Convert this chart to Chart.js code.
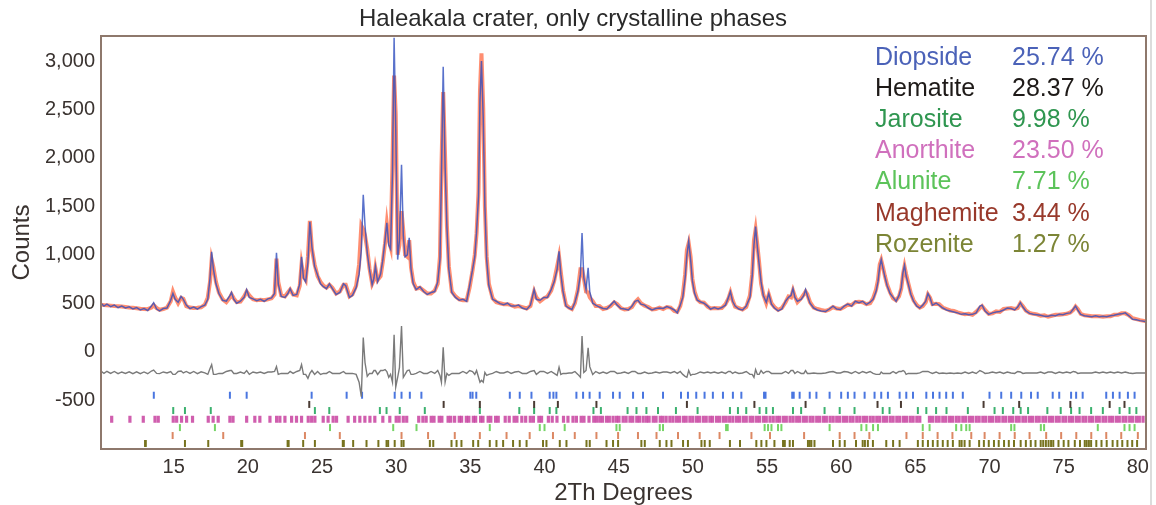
<!DOCTYPE html>
<html>
<head>
<meta charset="utf-8">
<title>Haleakala crater XRD</title>
<script src="https://cdn.jsdelivr.net/npm/chart.js@4.4.1/dist/chart.umd.min.js"></script>
<style>
  html, body { margin: 0; padding: 0; background: #fff; }
  canvas { display: block; }
</style>
</head>
<body>
<canvas id="xrdChart" width="1156" height="505"></canvas>
<script>
// Rietveld fit, 2-theta (degrees) against counts
const twoTheta = [
  10.1, 10.3, 10.5, 10.75, 11.0, 11.25, 11.5, 11.75, 12.0, 12.25,
  12.5, 12.75, 13.0, 13.25, 13.5, 13.65, 13.85, 14.05, 14.3, 14.55,
  14.8, 14.95, 15.1, 15.3, 15.5, 15.65, 15.85, 16.1, 16.35, 16.6,
  16.85, 17.1, 17.3, 17.45, 17.56, 17.68, 17.85, 18.05, 18.3, 18.55,
  18.8, 18.9, 19.05, 19.25, 19.5, 19.75, 19.92, 20.1, 20.35, 20.6,
  20.85, 21.1, 21.35, 21.6, 21.8, 21.93, 22.05, 22.25, 22.5, 22.7,
  22.85, 23.05, 23.3, 23.5, 23.62, 23.75, 23.9, 24.05, 24.18, 24.32,
  24.5, 24.7, 24.9, 25.1, 25.3, 25.5, 25.7, 25.95, 26.2, 26.45,
  26.6, 26.85, 27.05, 27.3, 27.5, 27.65, 27.78, 27.9, 28.05, 28.2,
  28.38, 28.5, 28.6, 28.75, 28.95, 29.1, 29.25, 29.37, 29.5, 29.62,
  29.75, 29.86, 29.97, 30.1, 30.22, 30.36, 30.48, 30.6, 30.75, 30.88,
  31.0, 31.15, 31.35, 31.6, 31.85, 32.1, 32.35, 32.6, 32.8, 32.95,
  33.05, 33.17, 33.3, 33.42, 33.55, 33.75, 34.0, 34.25, 34.5, 34.75,
  34.95, 35.15, 35.3, 35.42, 35.55, 35.65, 35.75, 35.87, 35.98, 36.1,
  36.25, 36.5, 36.75, 37.0, 37.25, 37.5, 37.75, 38.0, 38.25, 38.5,
  38.8, 39.05, 39.3, 39.45, 39.7, 39.95, 40.2, 40.45, 40.65, 40.85,
  40.98, 41.1, 41.25, 41.45, 41.65, 41.85, 42.05, 42.25, 42.42, 42.53,
  42.65, 42.8, 42.94, 43.05, 43.25, 43.45, 43.7, 43.95, 44.2, 44.45,
  44.7, 44.9, 45.15, 45.4, 45.65, 45.9, 46.1, 46.3, 46.5, 46.75,
  47.0, 47.25, 47.5, 47.75, 48.0, 48.25, 48.5, 48.75, 48.95, 49.15,
  49.32, 49.48, 49.6, 49.72, 49.85, 49.97, 50.12, 50.3, 50.5, 50.75,
  51.0, 51.2, 51.45, 51.7, 51.95, 52.2, 52.4, 52.53, 52.68, 52.85,
  53.1, 53.35, 53.6, 53.85, 54.0, 54.12, 54.23, 54.35, 54.47, 54.6,
  54.75, 54.95, 55.12, 55.3, 55.5, 55.75, 56.0, 56.25, 56.45, 56.62,
  56.75, 56.88, 57.05, 57.3, 57.48, 57.6, 57.72, 57.9, 58.15, 58.4,
  58.65, 58.95, 59.2, 59.45, 59.7, 59.95, 60.2, 60.45, 60.7, 60.95,
  61.2, 61.45, 61.7, 61.95, 62.15, 62.35, 62.48, 62.6, 62.7, 62.82,
  62.95, 63.1, 63.3, 63.5, 63.7, 63.9, 64.05, 64.17, 64.27, 64.38,
  64.52, 64.7, 64.88, 65.1, 65.3, 65.5, 65.7, 65.85, 65.98, 66.15,
  66.4, 66.6, 66.85, 67.1, 67.35, 67.6, 67.85, 68.1, 68.35, 68.6,
  68.85, 69.1, 69.35, 69.5, 69.7, 69.95, 70.2, 70.45, 70.7, 70.95,
  71.2, 71.45, 71.7, 71.9, 72.08, 72.25, 72.45, 72.7, 72.95, 73.2,
  73.45, 73.7, 73.95, 74.2, 74.45, 74.7, 74.95, 75.2, 75.45, 75.65,
  75.8, 75.95, 76.15, 76.4, 76.65, 76.9, 77.15, 77.4, 77.65, 77.9,
  78.15, 78.4, 78.65, 78.9, 79.15, 79.4, 79.65, 79.9, 80.15, 80.5
];
const observed = [
  500, 470, 490, 465, 480, 455, 470, 450, 462, 440,
  455, 430, 445, 425, 470, 505, 440, 420, 445, 450,
  530, 600, 540, 510, 570, 540, 480, 445, 460, 440,
  465, 480, 540, 760, 1030, 850, 700, 600, 530, 520,
  580, 610, 540, 500, 520, 560, 640, 560, 545, 525,
  540, 520, 545, 555, 600, 1020, 700, 570, 560, 600,
  650, 580, 590, 700, 980, 760, 720, 920, 1340, 1080,
  880, 790, 700, 670, 650, 700, 650, 590, 610, 700,
  680, 560, 580, 660, 800, 1050, 1620, 1300, 1020, 850,
  690, 760, 880, 720, 800, 950, 1150, 1330, 1100, 1060,
  1850, 3240, 2300, 950, 1150, 1930, 1200, 980, 1000, 1175,
  850, 700, 640, 670, 620, 590, 610, 620, 720, 950,
  1800, 2940, 1900, 1290, 850, 610, 560, 530, 540, 520,
  680, 850, 980, 1240, 1600, 2600, 3000, 2400, 1500, 950,
  680, 540, 520, 495, 485, 500, 470, 470, 480, 450,
  435, 480, 640, 540, 530, 560, 560, 640, 720, 850,
  1035, 800, 620, 470, 450, 435, 510, 620, 800, 1225,
  760, 640, 865, 620, 500, 480, 460, 445, 440, 480,
  520, 480, 445, 440, 430, 470, 520, 530, 490, 480,
  450, 430, 445, 450, 445, 465, 450, 430, 400, 480,
  560, 760, 1000, 1140, 950, 730, 600, 530, 515, 500,
  470, 440, 455, 440, 455, 480, 560, 620, 520, 470,
  440, 430, 470, 560, 780, 1100, 1290, 1080, 900, 720,
  580, 510, 600, 490, 450, 420, 440, 520, 560, 580,
  650, 560, 520, 540, 580, 640, 580, 500, 450, 430,
  420, 415, 440, 470, 440, 435, 470, 490, 470, 520,
  505, 520, 485, 510, 540, 620, 720, 880, 950, 860,
  770, 680, 600, 560, 520, 580, 660, 820, 890, 780,
  700, 590, 520, 470, 450, 480, 520, 600, 560, 480,
  500, 480, 450, 430, 420, 410, 400, 385, 390, 380,
  385, 400, 470, 480, 420, 385, 400, 410, 415, 430,
  450, 445, 430, 460, 505, 460, 420, 395, 385, 380,
  375, 365, 365, 375, 370, 385, 380, 395, 400, 440,
  470, 430, 385, 370, 365, 360, 370, 360, 365, 360,
  370, 375, 385, 390, 400, 370, 335, 330, 320, 310
];
const calculated = [
  485, 480, 478, 475, 470, 468, 465, 460, 455, 452,
  448, 442, 440, 438, 455, 480, 450, 432, 440, 455,
  520, 620, 560, 500, 555, 545, 470, 455, 450, 452,
  458, 485, 560, 720, 950, 870, 720, 610, 540, 510,
  560, 590, 550, 510, 515, 570, 620, 580, 540, 530,
  535, 530, 540, 550, 590, 960, 720, 580, 570, 610,
  640, 590, 580, 680, 900, 780, 740, 980, 1350, 1060,
  900, 780, 720, 680, 660, 690, 660, 600, 620, 690,
  690, 570, 590, 680, 900, 1300, 1260, 1200, 1060, 860,
  700, 740, 860, 740, 780, 930, 1120, 1320, 1150, 1080,
  1950, 2850, 2450, 1000, 1100, 1450, 1250, 1000, 980, 1150,
  870, 720, 650, 660, 630, 600, 600, 630, 700, 980,
  1900, 2680, 2000, 1300, 880, 620, 570, 540, 530, 530,
  660, 840, 1000, 1220, 1650, 2700, 3080, 2500, 1500, 980,
  700, 550, 510, 500, 490, 490, 480, 465, 470, 460,
  445, 470, 620, 560, 520, 550, 570, 630, 730, 880,
  980, 820, 630, 480, 455, 440, 500, 640, 850, 850,
  760, 620, 610, 560, 520, 470, 470, 440, 450, 470,
  510, 490, 450, 435, 440, 460, 510, 540, 500, 475,
  460, 435, 440, 455, 440, 460, 455, 420, 410, 470,
  580, 800, 1050, 1120, 980, 750, 620, 540, 510, 505,
  465, 445, 450, 448, 450, 490, 550, 610, 530, 465,
  450, 435, 460, 580, 800, 1150, 1260, 1100, 920, 700,
  590, 500, 590, 500, 460, 430, 450, 510, 570, 560,
  630, 570, 510, 550, 590, 620, 590, 510, 455, 440,
  430, 420, 435, 460, 445, 440, 460, 485, 480, 510,
  515, 510, 490, 500, 550, 640, 740, 900, 945, 870,
  780, 690, 610, 550, 530, 570, 650, 800, 880, 800,
  710, 600, 530, 480, 455, 470, 510, 590, 560, 490,
  495, 490, 455, 440, 425, 420, 405, 395, 385, 390,
  380, 410, 450, 470, 430, 390, 395, 415, 410, 440,
  445, 450, 440, 450, 500, 470, 425, 400, 390, 385,
  370, 375, 360, 370, 380, 380, 385, 390, 405, 430,
  465, 440, 390, 375, 370, 365, 365, 365, 360, 365,
  365, 380, 380, 395, 395, 375, 345, 335, 325, 315
];

// Axis ticks
const xTicks = [15, 20, 25, 30, 35, 40, 45, 50, 55, 60, 65, 70, 75, 80];
const yTicks = [-500, 0, 500, 1000, 1500, 2000, 2500, 3000];

// Quantified phases (wt %)
const phaseNames = ['Diopside', 'Hematite', 'Jarosite', 'Anorthite', 'Alunite', 'Maghemite', 'Rozenite'];
const phasePercents = [25.74, 28.37, 9.98, 23.50, 7.71, 3.44, 1.27];

// Reflection positions (2-theta) for each phase
const diopsidePeaks = [13.66, 18.79, 19.92, 24.3, 26.66, 27.7, 29.9, 30.36, 30.92, 31.7,
  35.0, 35.15, 35.4, 37.66, 38.33, 39.12, 40.35, 40.6, 40.8, 42.15, 42.6, 43.04, 43.72,
  44.62, 45.07, 45.97, 46.64, 47.99, 49.2, 49.67, 50.23, 50.79, 51.35, 52.03, 52.7, 53.27,
  54.8, 54.9, 56.7, 56.8, 57.2, 57.88, 58.33, 59.22, 60.0, 60.45, 60.9, 61.58, 62.25, 62.7,
  63.15, 63.94, 64.39, 64.84, 65.74, 66.19, 66.63, 67.08, 67.53, 68.2, 70.0, 70.79, 71.46,
  72.14, 72.8, 73.25, 74.26, 74.7, 75.5, 75.84, 76.28, 77.87, 78.32, 78.77, 79.33, 79.78];
const hematitePeaks = [24.14, 33.2, 35.64, 39.3, 40.9, 43.5, 49.6, 54.15, 57.6, 62.45,
  64.03, 69.6, 72.0, 75.45, 78.1, 79.1];
const jarositePeaks = [14.97, 15.76, 17.5, 24.52, 25.49, 28.9, 29.35, 30.24, 31.93, 35.64,
  38.3, 39.3, 40.35, 40.8, 43.3, 43.8, 45.6, 46.2, 46.87, 47.65, 48.86, 50.32, 52.5, 53.04,
  53.6, 54.5, 54.95, 55.4, 56.75, 57.3, 58.88, 59.9, 60.9, 62.8, 63.26, 65.17, 65.74, 66.4,
  67.1, 68.54, 70.34, 70.9, 71.6, 72.1, 72.6, 73.9, 74.8, 75.5, 76.07, 76.85, 77.64, 78.77,
  79.44, 79.9];
const anorthitePeaks = [10.82, 12.05, 12.95, 13.74, 13.96, 14.97, 15.2, 15.53, 15.87, 16.27,
  17.33, 17.66, 18.0, 18.79, 19.0, 19.92, 20.47, 20.81, 21.49, 21.94, 22.16, 22.5, 22.95,
  23.28, 23.62, 24.07, 24.3, 24.52, 25.08, 25.41, 25.75, 25.98, 26.76, 27.2, 27.55, 27.89,
  28.23, 28.56, 29.1, 29.57, 30.0, 30.2, 30.48, 30.71, 31.52, 31.8, 32.02, 32.36, 32.55,
  32.9, 33.08, 33.5, 33.68, 33.94, 34.25, 34.41, 34.73, 34.9, 35.2, 35.36, 35.69, 35.85,
  36.2, 36.38, 36.7, 36.88, 37.35, 37.62, 37.95, 38.14, 38.47, 38.73, 39.04, 39.25, 39.62,
  39.8, 40.26, 40.52, 40.84, 41.28, 41.58, 41.92, 42.15, 42.47, 42.66, 43.0, 43.32, 43.5,
  43.72, 43.91, 44.18, 44.37, 44.62, 44.85, 45.02, 45.3, 45.5, 45.76, 45.95, 46.22, 46.4,
  46.65, 46.87, 47.05, 47.33, 47.52, 47.8, 47.98, 48.2, 48.45, 48.66, 48.9, 49.1, 49.36,
  49.55, 49.8, 50.0, 50.25, 50.44, 50.7, 50.9, 51.15, 51.33, 51.6, 51.8, 52.05, 52.25,
  52.48, 52.7, 52.95, 53.15, 53.4, 53.6, 53.86, 54.05, 54.3, 54.5, 54.76, 54.95, 55.2,
  55.42, 55.66, 55.85, 56.1, 56.3, 56.55, 56.76, 57.0, 57.2, 57.45, 57.65, 57.9, 58.1,
  58.35, 58.55, 58.8, 59.0, 59.25, 59.46, 59.7, 59.9, 60.15, 60.36, 60.6, 60.8, 61.05,
  61.26, 61.5, 61.7, 61.95, 62.16, 62.4, 62.6, 62.85, 63.05, 63.3, 63.5, 63.75, 63.95,
  64.2, 64.4, 64.65, 64.85, 65.1, 65.3, 65.95, 66.15, 66.4, 66.6, 66.85, 67.05, 67.3,
  67.5, 67.75, 67.95, 68.2, 68.4, 68.65, 68.85, 69.1, 69.3, 69.55, 69.75, 70.0, 70.2,
  70.45, 70.65, 70.9, 71.1, 71.35, 71.55, 71.8, 72.0, 72.25, 72.45, 72.7, 72.9, 73.15,
  73.35, 73.6, 73.8, 74.05, 74.25, 74.5, 74.7, 74.95, 75.15, 75.4, 75.6, 75.85, 76.05,
  76.3, 76.5, 76.75, 76.95, 77.2, 77.4, 77.65, 77.85, 78.1, 78.3, 78.55, 78.75, 79.0,
  79.2, 79.45, 79.65, 79.9, 80.1, 80.35];
const alunitePeaks = [15.42, 17.78, 25.54, 29.8, 31.37, 36.31, 39.68, 40.0, 41.36, 44.85,
  45.07, 47.77, 47.99, 52.24, 52.35, 54.84, 55.07, 55.3, 55.74, 55.97, 59.22, 61.36, 61.7,
  62.15, 62.48, 65.5, 65.96, 67.75, 68.1, 68.43, 68.66, 71.46, 71.68, 73.46, 73.68, 77.3,
  79.1, 79.44, 79.78];
const maghemitePeaks = [14.93, 18.34, 23.85, 26.2, 30.36, 32.15, 33.95, 35.64, 37.44, 39.0,
  40.57, 42.04, 43.5, 44.96, 46.3, 47.55, 49.0, 50.46, 51.8, 53.95, 55.2, 57.5, 59.9, 60.9,
  61.9, 64.4, 65.5, 66.5, 67.5, 68.77, 69.67, 70.68, 71.7, 72.7, 73.82, 74.83, 75.85, 76.86,
  77.87, 78.88, 80.0];
const rozenitePeaks = [13.07, 13.12, 15.76, 17.33, 19.55, 19.62, 22.68, 22.75, 23.73, 24.52,
  26.4, 26.47, 27.1, 28.0, 28.8, 29.35, 29.46, 29.9, 30.36, 30.5, 32.27, 32.5, 33.73, 34.07,
  34.4, 35.19, 35.53, 36.31, 36.76, 37.21, 37.88, 38.33, 38.79, 39.9, 40.13, 41.03, 41.48,
  42.83, 43.05, 44.18, 44.62, 44.96, 46.53, 46.76, 47.77, 48.22, 48.56, 49.34, 49.67, 50.58,
  50.8, 51.14, 52.5, 53.18, 54.28, 54.62, 54.96, 55.5, 56.08, 56.2, 56.53, 56.75, 57.76,
  57.88, 57.99, 58.2, 59.45, 59.9, 60.24, 61.0, 61.45, 61.6, 61.8, 62.14, 63.04, 63.5, 63.94,
  65.17, 65.5, 65.85, 66.18, 66.5, 66.85, 67.18, 67.53, 67.98, 68.12, 68.32, 68.66, 69.3,
  69.62, 69.95, 70.3, 70.62, 70.98, 71.3, 71.65, 72.1, 72.45, 72.78, 73.1, 73.45, 73.62,
  73.8, 73.98, 74.15, 74.3, 74.65, 75.0, 75.32, 75.75, 76.1, 76.42, 76.55, 76.7, 76.85,
  77.2, 77.55, 77.9, 78.3, 78.62, 78.95, 79.3, 79.62, 79.95];

const phasePeaks = [diopsidePeaks, hematitePeaks, jarositePeaks, anorthitePeaks,
  alunitePeaks, maghemitePeaks, rozenitePeaks];

// text colours of the phase list and colours of the reflection markers
const phaseTextColors = ['#4b62b8', '#1e1a18', '#2f9650', '#d070bd', '#5cc35a', '#98392b', '#7c8536'];
const phaseTickColors = ['#4a76e0', '#4a3b33', '#3bb16e', 'rgba(200,66,160,0.85)', '#76d466', '#dc8864', '#77731f'];
// vertical level (counts) of each marker row, below the difference curve
const tickLevels = [-450, -545, -608, -698, -784, -866, -948];
const tickWidths = [2, 2, 2, 3.2, 2, 2, 2];

// difference curve is plotted shifted below zero
const DIFF_OFFSET = -215;
const difference = observed.map((o, i) => o - calculated[i] + DIFF_OFFSET);

const toPoints = (ys) => twoTheta.map((x, i) => ({ x: x, y: ys[i] }));

const curveStyle = { showLine: true, pointRadius: 0, pointHoverRadius: 0, tension: 0 };

const markerSets = phasePeaks.map((peaks, i) => ({
  label: phaseNames[i] + ' reflections',
  data: peaks.map(x => ({ x: x, y: tickLevels[i] })),
  showLine: false,
  pointStyle: 'line',
  pointRotation: 90,
  pointRadius: 3.5,
  pointHoverRadius: 3.5,
  pointBorderWidth: tickWidths[i],
  pointBorderColor: phaseTickColors[i],
  borderColor: phaseTickColors[i]
}));

const FONT = '"Liberation Sans", Arial, Helvetica, sans-serif';
const TEXT = '#3a3330';

// frame round the plot area
const framePlugin = {
  id: 'frame',
  afterDatasetsDraw(chart) {
    const a = chart.chartArea;
    const ctx = chart.ctx;
    ctx.save();
    ctx.strokeStyle = '#8e786c';
    ctx.lineWidth = 2;
    ctx.strokeRect(a.left, a.top, a.right - a.left, a.bottom - a.top);
    // light edge at the right border of the figure
    ctx.strokeStyle = '#dcdcdc';
    ctx.lineWidth = 2;
    ctx.beginPath();
    ctx.moveTo(chart.width - 5, 0);
    ctx.lineTo(chart.width - 5, chart.height);
    ctx.stroke();
    ctx.restore();
  }
};

// phase names and fractions in the upper right corner
const phaseListPlugin = {
  id: 'phaseList',
  afterDraw(chart) {
    const a = chart.chartArea;
    const ctx = chart.ctx;
    ctx.save();
    ctx.font = '25px ' + FONT;
    ctx.textBaseline = 'alphabetic';
    ctx.textAlign = 'left';
    phaseNames.forEach((name, i) => {
      const y = a.top + 29 + i * 31.1;
      ctx.fillStyle = phaseTextColors[i];
      ctx.fillText(name, a.right - 271, y);
      ctx.fillText(phasePercents[i].toFixed(2) + ' %', a.right - 134, y);
    });
    ctx.restore();
  }
};

new Chart(document.getElementById('xrdChart'), {
  type: 'scatter',
  data: {
    datasets: [
      // observed counts over the wider fitted profile
      Object.assign({ label: 'Observed', data: toPoints(observed),
        borderColor: 'rgba(48,78,190,0.8)', borderWidth: 1.5 }, curveStyle),
      Object.assign({ label: 'Calculated', data: toPoints(calculated),
        borderColor: 'rgba(255,122,88,0.85)', borderWidth: 4 }, curveStyle),
      Object.assign({ label: 'Difference', data: toPoints(difference),
        borderColor: '#7a7a7a', borderWidth: 1.4 }, curveStyle),
      ...markerSets
    ]
  },
  options: {
    responsive: false,
    animation: false,
    devicePixelRatio: 1,
    layout: { padding: { left: 0, right: 10, top: 0, bottom: 0 } },
    plugins: {
      legend: { display: false },
      tooltip: { enabled: false },
      title: {
        display: true,
        text: 'Haleakala crater, only crystalline phases',
        color: '#2a2a2a',
        font: { family: FONT, size: 24, weight: 'normal', lineHeight: 1.2 },
        padding: { top: 4.5, bottom: 2.7 }
      }
    },
    scales: {
      x: {
        type: 'linear',
        min: 10.1,
        max: 80.55,
        afterBuildTicks: (s) => { s.ticks = xTicks.map(v => ({ value: v })); },
        afterFit: (s) => { s.height = 56; },
        grid: { display: false, drawTicks: false },
        border: { display: false },
        ticks: { color: TEXT, font: { family: FONT, size: 20 }, padding: 6, maxRotation: 0 },
        title: {
          display: true,
          text: '2Th Degrees',
          color: TEXT,
          font: { family: FONT, size: 24, lineHeight: 1 },
          padding: { top: 0, bottom: 0 }
        }
      },
      y: {
        type: 'linear',
        min: -1005,
        max: 3258,
        afterBuildTicks: (s) => { s.ticks = yTicks.map(v => ({ value: v })); },
        afterFit: (s) => { s.width = 101; },
        grid: { display: false, drawTicks: false },
        border: { display: false },
        ticks: {
          color: TEXT,
          font: { family: FONT, size: 20 },
          padding: 6,
          callback: (v) => Number(v).toLocaleString('en-US')
        },
        title: {
          display: true,
          text: 'Counts',
          color: TEXT,
          font: { family: FONT, size: 24, lineHeight: 1 },
          padding: { top: 10.5, bottom: 0 }
        }
      }
    }
  },
  plugins: [framePlugin, phaseListPlugin]
});
</script>
</body>
</html>
